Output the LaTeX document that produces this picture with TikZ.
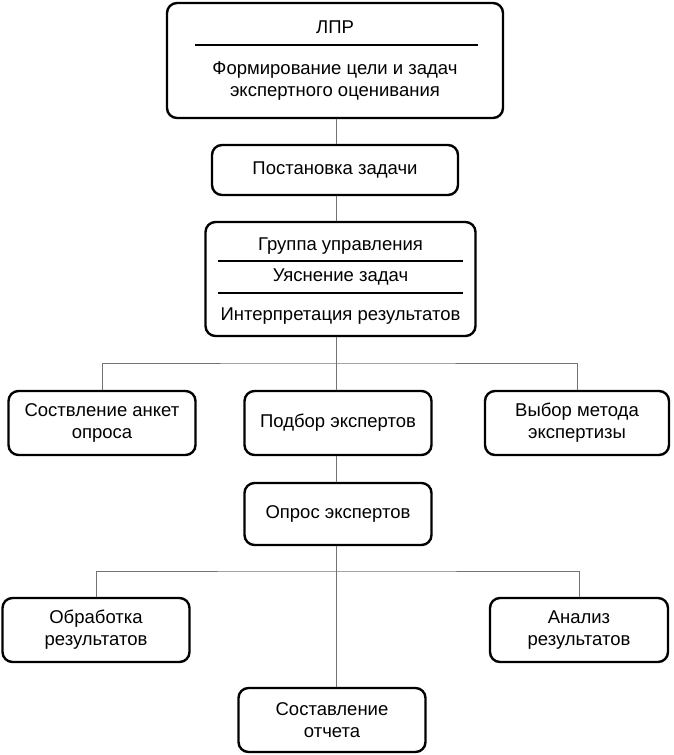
\documentclass[tikz,border=0pt]{standalone}
\usepackage{fontspec}
\setmainfont{Liberation Sans}
\begin{document}
\begin{tikzpicture}[x=1pt,y=-1pt,
  box/.style={draw=black,line width=2.4pt,rounded corners=10pt,inner sep=0pt},
  txt/.style={font=\fontsize{18.5}{22}\selectfont,align=center,inner sep=0pt},
  link/.style={draw=black!55,line width=1pt},
  sep/.style={draw=black,line width=1.6pt}]
\useasboundingbox (0,0) rectangle (674,755);
% boxes
\node[box,minimum width=336pt,minimum height=115pt] (lpr) at (335,60.5) {};
\node[box,minimum width=246pt,minimum height=50pt] (post) at (335,170) {};
\node[box,minimum width=270pt,minimum height=114pt] (grp) at (340.5,279) {};
\node[box,minimum width=187pt,minimum height=64pt] (ank) at (102,423) {};
\node[box,minimum width=187pt,minimum height=64pt] (pod) at (338,423) {};
\node[box,minimum width=184pt,minimum height=64pt] (vyb) at (577,423) {};
\node[box,minimum width=187pt,minimum height=62pt] (opr) at (338,514) {};
\node[box,minimum width=187pt,minimum height=64pt] (obr) at (96,630) {};
\node[box,minimum width=178pt,minimum height=64pt] (ana) at (579,630) {};
\node[box,minimum width=187pt,minimum height=64pt] (otc) at (332,720) {};
% texts
\node[txt] (t1) at (335,27) {ЛПР};
\node[txt] (t2) at (335,81) {Формирование цели и задач\\экспертного оценивания};
\node[txt] (t3) at (335,170) {Постановка задачи};
\node[txt] (t4) at (340.5,246) {Группа управления};
\node[txt] (t5) at (340.5,277) {Уяснение задач};
\node[txt] (t6) at (340.5,316) {Интерпретация результатов};
\node[txt] (t7) at (102,423) {Соствление анкет\\опроса};
\node[txt] (t8) at (338,423) {Подбор экспертов};
\node[txt] (t9) at (577,423) {Выбор метода\\экспертизы};
\node[txt] (t10) at (338,514) {Опрос экспертов};
\node[txt] (t11) at (96,630) {Обработка\\результатов};
\node[txt] (t12) at (579,630) {Анализ\\результатов};
\node[txt] (t13) at (332,720) {Составление\\отчета};
% dividers
\draw[sep] (195,45) -- (478,45);
\draw[sep] (218,261) -- (463,261);
\draw[sep] (218,293) -- (463,293);
% connectors
\coordinate (h1) at (336,363);
\coordinate (h2) at (336,571);
\draw[link] (lpr.south -| h1) -- (post.north -| h1);
\draw[link] (post.south -| h1) -- (grp.north -| h1);
\draw[link] (grp.south -| h1) -- (h1);
\draw[link] (ank.north) |- (h1) -| (vyb.north);
\draw[link] (h1) -- (pod.north -| h1);
\draw[link] (pod.south -| h1) -- (opr.north -| h1);
\draw[link] (opr.south -| h2) -- (h2);
\draw[link] (obr.north) |- (h2) -| (ana.north);
\draw[link] (h2) -- (otc.north -| h2);
\end{tikzpicture}
\end{document}
